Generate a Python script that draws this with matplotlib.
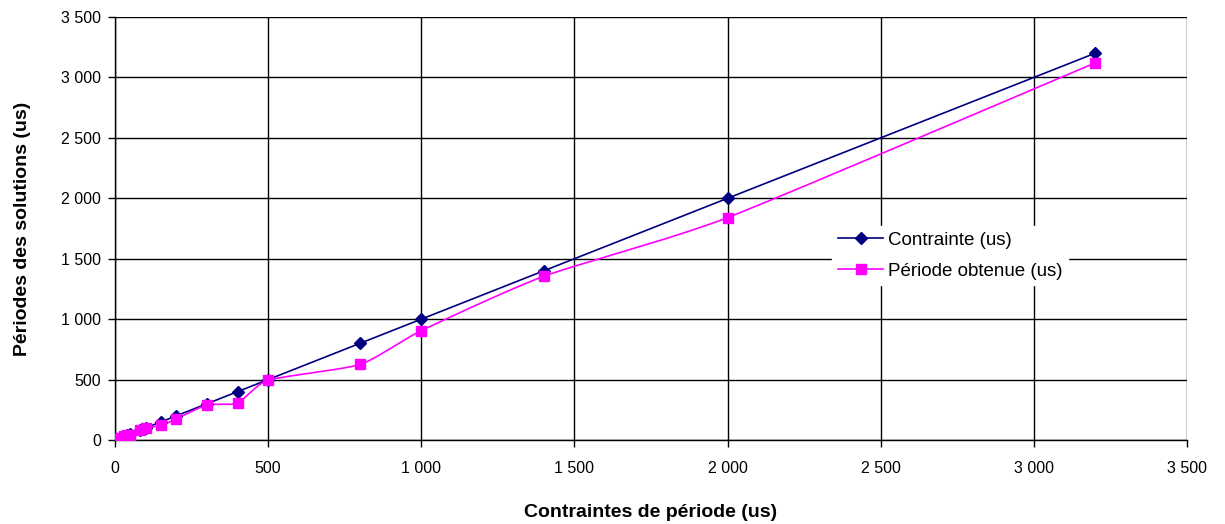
import numpy as np
import matplotlib
matplotlib.use("Agg")
import matplotlib.pyplot as plt
from matplotlib.ticker import FuncFormatter, MultipleLocator

plt.rcParams['font.family'] = ['Liberation Sans', 'DejaVu Sans']

contraintes = [5, 10, 20, 30, 40, 50, 80, 100, 150, 200, 300, 400, 500, 800, 1000, 1400, 2000, 3200]
contrainte_us = [5, 10, 20, 30, 40, 50, 80, 100, 150, 200, 300, 400, 500, 800, 1000, 1400, 2000, 3200]
periode_obtenue = [5, 10, 20, 30, 40, 45, 80, 100, 120, 175, 290, 305, 495, 625, 905, 1355, 1840, 3120]

label_contrainte = "Contrainte (us)"
label_obtenue = "Période obtenue (us)"
xlabel = "Contraintes de période (us)"
ylabel = "Périodes des solutions (us)"


def smooth(x, y, n=20):
    # Catmull-Rom style curve through the data points (for the line only)
    x = np.asarray(x, float); y = np.asarray(y, float)
    px = np.concatenate([[x[0]], x, [x[-1]]])
    py = np.concatenate([[y[0]], y, [y[-1]]])
    xs, ys = [], []
    t = np.linspace(0, 1, n)
    for i in range(1, len(px) - 2):
        p0, p1, p2, p3 = [np.array([px[j], py[j]]) for j in (i - 1, i, i + 1, i + 2)]
        m1 = (p2 - p0) / 2 * 0.6
        m2 = (p3 - p1) / 2 * 0.6
        h00 = 2*t**3 - 3*t**2 + 1
        h10 = t**3 - 2*t**2 + t
        h01 = -2*t**3 + 3*t**2
        h11 = t**3 - t**2
        pts = np.outer(h00, p1) + np.outer(h10, m1) + np.outer(h01, p2) + np.outer(h11, m2)
        xs.extend(pts[:, 0]); ys.extend(pts[:, 1])
    return xs, ys


fig = plt.figure(figsize=(12.25, 5.24), dpi=100)
ax = fig.add_axes([0.0939, 0.1603, 0.969 - 0.0939, 0.9676 - 0.1603])

navy = '#000080'
mag = '#FF00FF'

sx, sy = smooth(contraintes, contrainte_us)
ax.plot(sx, sy, color=navy, lw=1.2, zorder=3)
ax.plot(contraintes, contrainte_us, ls='none', marker='D', ms=6, color=navy, zorder=4)
sx2, sy2 = smooth(contraintes, periode_obtenue)
ax.plot(sx2, sy2, color=mag, lw=1.2, zorder=3)
ax.plot(contraintes, periode_obtenue, ls='none', marker='s', ms=7, color=mag, zorder=5)

# legend proxies
ax.plot([], [], color=navy, lw=1.2, marker='D', ms=6, label=label_contrainte)
ax.plot([], [], color=mag, lw=1.2, marker='s', ms=7, label=label_obtenue)

ax.set_xlim(0, 3500)
ax.set_ylim(0, 3500)
ax.xaxis.set_major_locator(MultipleLocator(500))
ax.yaxis.set_major_locator(MultipleLocator(500))
fmt = FuncFormatter(lambda v, p: f"{int(v):,}".replace(",", " "))
ax.xaxis.set_major_formatter(fmt)
ax.yaxis.set_major_formatter(fmt)
ax.grid(True, color='black', lw=1.0, zorder=0)
ax.set_axisbelow(True)
for s in ['top', 'right']:
    ax.spines[s].set_visible(False)
for s in ['left', 'bottom']:
    ax.spines[s].set_color('black')
    ax.spines[s].set_linewidth(1.0)
ax.tick_params(direction='out', length=5, width=1, labelsize=11.5, colors='black')
ax.tick_params(axis='x', pad=10)
ax.tick_params(axis='y', pad=5)

ax.set_xlabel(xlabel, fontsize=14, fontweight='bold', labelpad=20)
ax.set_ylabel(ylabel, fontsize=14, fontweight='bold', labelpad=22)

leg = ax.legend(loc='center', bbox_to_anchor=(0.779, 0.436), frameon=True, fontsize=13.5,
                handlelength=2.4, borderpad=0.3, labelspacing=0.75, handletextpad=0.25,
                fancybox=False, framealpha=1)
leg.get_frame().set_edgecolor('white')
leg.get_frame().set_facecolor('white')

fig.savefig('out.png', dpi=100)
